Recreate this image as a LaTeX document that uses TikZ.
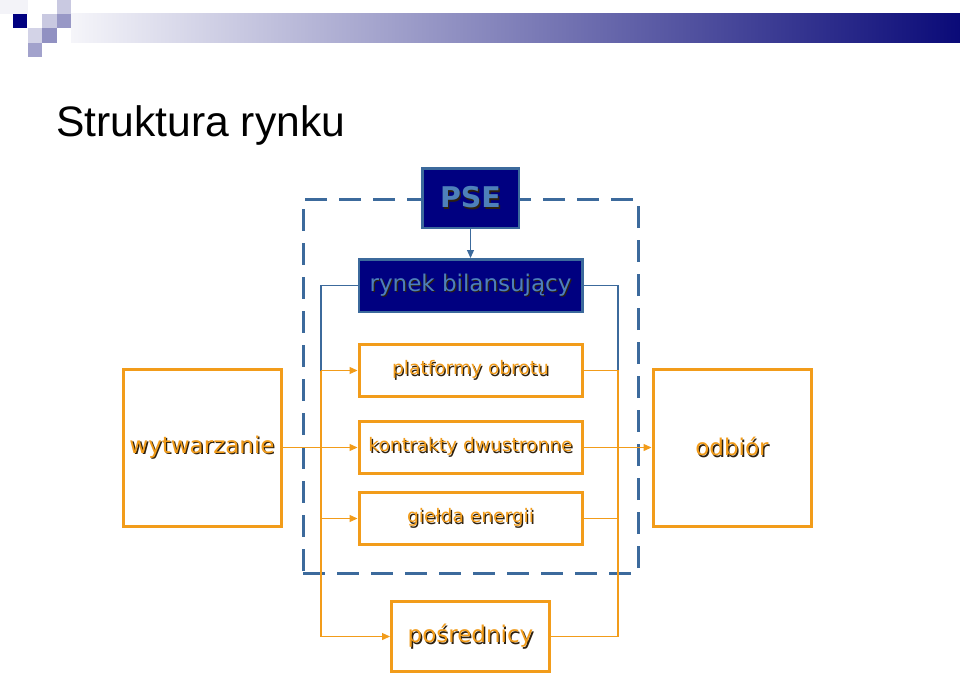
\documentclass[tikz,border=0pt]{standalone}
\usepackage{fontspec}
\setmainfont{DejaVu Sans}
\newfontfamily\titlefont{Liberation Sans}
\usepackage{tikz}
\usetikzlibrary{arrows.meta, positioning}

\definecolor{mktorange}{RGB}{242,156,26}
\definecolor{mktnavy}{RGB}{0,0,128}
\definecolor{mktblue}{RGB}{60,106,156}
\definecolor{mkttext}{RGB}{78,128,186}
\definecolor{txtshadow}{RGB}{45,32,15}
\definecolor{barnavy}{RGB}{10,10,120}

% text with a small dark shadow
\newcommand{\shtxt}[2]{\makebox[0pt][l]{\kern1.3pt\raisebox{-1.3pt}{\color{txtshadow}#2}}{\color{#1}#2}}

\begin{document}
\begin{tikzpicture}[
    x=1pt, y=1pt,
    market/.style={draw=mktorange, line width=3pt, fill=white, minimum width=223pt, minimum height=52pt, inner sep=0pt, font=\fontsize{18.6}{20}\selectfont},
    bigbox/.style={draw=mktorange, line width=3pt, fill=white, minimum width=158pt, minimum height=157pt, inner sep=0pt, font=\fontsize{23}{26}\selectfont},
    psebox/.style={draw=mktblue, line width=2.5pt, fill=mktnavy, inner sep=0pt},
    olink/.style={draw=mktorange, line width=1.3pt},
    blink/.style={draw=mktblue, line width=1.2pt},
    flow/.style={-{Triangle[length=8pt,width=7pt]}},
    tsoframe/.style={draw=mktblue, line width=3pt, dash pattern=on 22pt off 12pt, minimum width=335pt, minimum height=374pt, inner sep=0pt}
]
\useasboundingbox (0,0) rectangle (960,-677);

% header bar
\shade[left color=barnavy!4, right color=barnavy] (71,-14) rectangle (960,-43);
\fill[barnavy!5] (0,0) rectangle (28,-14);
\fill[mktnavy] (13,-14) rectangle (27,-28);
\fill[barnavy!22] (57,0) rectangle (71,-14);
\fill[barnavy!22] (42,-14) rectangle (57,-28);
\fill[barnavy!42] (57,-14) rectangle (71,-28);
\fill[barnavy!18] (28,-28) rectangle (42,-43);
\fill[barnavy!45] (42,-28) rectangle (57,-43);
\fill[barnavy!38] (28,-43) rectangle (42,-57);

% title
\node[anchor=base west, inner sep=0pt, font=\titlefont\fontsize{42.6}{46}\selectfont] (title) at (56,-136) {Struktura rynku};

% market frame
\node[tsoframe] (frame) at (470.5,-386) {};

% markets
\node[market] (plat) at (470.5,-370.5) {\shtxt{mktorange}{platformy obrotu}};
\node[market, below=22pt of plat] (kontr) {\shtxt{mktorange}{kontrakty dwustronne}};
\node[market, below=16pt of kontr] (gielda) {\shtxt{mktorange}{giełda energii}};

% balancing market and PSE
\node[psebox, above=30pt of plat, minimum width=223.5pt, minimum height=52.5pt, font=\fontsize{23}{26}\selectfont] (rynek) {\shtxt{mkttext}{rynek bilansujący}};
\node[psebox, above=29pt of rynek, minimum width=96.5pt, minimum height=59.5pt, font=\bfseries\fontsize{28.5}{30}\selectfont] (pse) {\shtxt{mkttext}{PSE}};

% producers, consumers, brokers
\node[bigbox, left=75pt of kontr] (wytw) {\shtxt{mktorange}{wytwarzanie}};
\node[bigbox, right=68pt of kontr] (odbior) {\shtxt{mktorange}{odbiór}};
\node[bigbox, below=54pt of gielda, minimum height=70pt] (posr) {\shtxt{mktorange}{pośrednicy}};

% bus lines
\coordinate (lbus) at (321,0);
\coordinate (rbus) at (618,0);

% blue links
\draw[blink, flow] (pse) -- (rynek);
\draw[blink] (rynek.west) -| (plat.west -| lbus);
\draw[blink] (rynek.east) -| (plat.east -| rbus);

% left side
\draw[olink] (plat.west -| lbus) -- (posr.west -| lbus);
\draw[olink, flow] (plat.west -| lbus) -- (plat.west);
\draw[olink, flow] (wytw.east) -- (wytw.east -| kontr.west);
\draw[olink, flow] (gielda.west -| lbus) -- (gielda.west);
\draw[olink, flow] (posr.west -| lbus) -- (posr.west);

% right side
\draw[olink] (plat.east) -- (plat.east -| rbus) -- (posr.east -| rbus) -- (posr.east);
\draw[olink] (gielda.east) -- (gielda.east -| rbus);
\draw[olink, flow] (kontr.east) -- (kontr.east -| odbior.west);

\end{tikzpicture}
\end{document}
